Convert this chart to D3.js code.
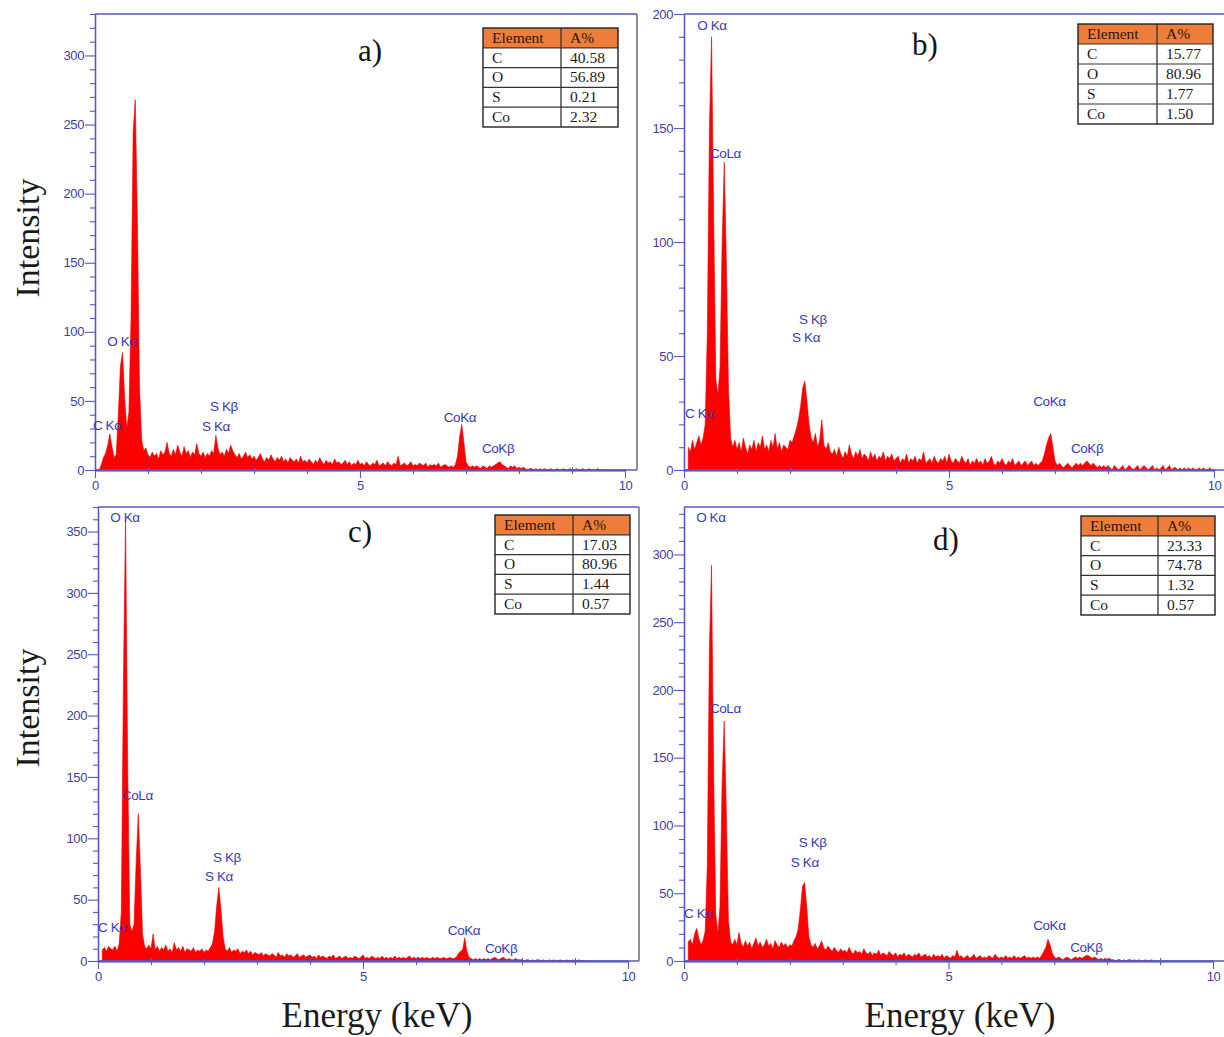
<!DOCTYPE html>
<html><head><meta charset="utf-8">
<script src="https://cdn.jsdelivr.net/npm/d3@7"></script>
<style>body{margin:0;background:#fff;} svg{display:block}</style>
</head><body>
<svg id="chart" width="1224" height="1037"></svg>
<script>
// ---------- DATA ----------
const energyStep = 0.04; // keV per channel (channel i -> i * energyStep)

const countsA = [0,0,0,4,9,12,18,26,17,9,
11,40,75,85,52,30,42,110,245,268,
180,60,22,14,16,11,9,13,10,12,
8,14,11,13,20,12,10,15,11,18,
13,10,17,12,14,9,13,11,19,12,
10,13,9,12,10,14,12,25,16,11,
13,10,15,12,18,14,11,9,12,8,
10,13,9,11,8,10,7,9,12,8,
6,9,7,11,8,6,9,7,10,6,
8,5,9,7,6,8,5,10,6,7,
5,8,6,4,7,5,9,6,4,7,
5,6,4,8,5,6,4,5,7,4,
6,3,5,4,7,4,5,3,6,4,
3,5,4,7,3,4,5,3,6,4,
3,5,4,10,3,4,5,3,4,6,
3,4,3,5,4,3,5,2,4,3,
4,3,5,2,3,4,3,2,3,2,
4,10,24,33,20,6,3,2,3,2,
3,2,1,3,2,1,3,2,3,4,
5,6,4,3,2,1,3,2,3,1,
2,1,2,1,0,1,1,0,1,0,
1,0,1,0,0,1,0,0,1,0,
0,1,0,0,1,0,0,1,0,0,
1,0,0,1,0,0,0,1,0,0];

const countsB = [0,0,10,8,13,9,12,15,11,14,
20,60,150,190,110,40,33,45,100,135,
90,35,14,10,13,9,12,8,14,10,
7,11,9,13,8,12,10,15,9,11,
8,13,10,16,9,12,8,11,10,9,
13,12,15,18,22,28,36,39,30,20,
14,12,16,10,13,22,11,9,12,8,
7,9,6,10,7,5,8,6,11,7,
5,8,6,9,5,7,6,4,8,5,
7,4,6,5,8,4,6,5,7,4,
5,6,3,5,4,7,3,5,4,6,
3,5,4,8,3,4,5,3,6,4,
3,5,4,6,3,7,4,3,5,4,
3,6,4,3,5,2,4,3,5,3,
4,2,5,3,4,6,3,2,4,3,
5,3,2,4,3,5,2,3,4,2,
3,4,2,3,4,2,3,2,3,4,
7,11,14,16,10,4,2,3,2,1,
2,3,2,1,2,3,2,3,2,3,
4,3,2,3,2,1,2,1,2,1,
2,1,0,2,1,0,1,2,0,1,
2,1,0,1,2,0,1,2,1,0,
1,2,0,1,0,1,2,0,1,2,
0,1,1,0,1,0,1,0,1,0,
1,0,0,1,0,1,0,0,1,0];

const countsC = [0,0,9,11,8,12,10,9,12,8,
14,40,230,360,160,30,24,30,80,120,
75,22,12,10,13,10,22,9,12,8,
11,9,13,8,10,7,15,9,11,8,
12,7,10,9,8,11,7,9,8,10,
7,9,8,11,14,24,45,60,42,20,
10,8,11,7,9,8,10,6,8,7,
9,6,8,5,7,6,5,7,4,6,
5,4,6,5,3,7,4,5,3,6,
4,5,3,4,6,3,4,5,3,4,
5,3,4,2,5,3,4,3,2,4,
3,5,2,3,4,2,3,4,2,3,
2,4,3,2,3,5,2,3,2,4,
3,2,3,2,4,2,3,2,3,2,
4,2,3,2,3,2,3,4,2,3,
2,3,2,3,2,3,2,2,3,2,
3,2,2,3,2,2,3,2,2,3,
6,8,9,19,8,3,2,1,2,1,
2,1,2,1,2,1,2,3,2,1,
2,3,2,1,2,1,1,2,1,1,
1,0,1,1,0,1,0,1,1,0,
1,0,0,1,0,1,0,0,1,0,
0,1,0,0,1,0,0,1,0,0,
0];

const countsD = [0,0,14,16,12,20,24,17,12,15,
22,70,230,292,140,35,20,40,130,177,
110,30,14,12,16,12,21,13,10,15,
11,14,9,13,17,11,14,10,12,16,
11,13,9,15,12,10,14,11,13,10,
12,11,15,18,24,38,55,58,40,18,
12,10,13,9,11,15,10,8,11,9,
7,10,8,6,9,7,8,6,10,7,
5,8,6,7,5,9,6,5,7,4,
6,5,8,4,6,5,4,7,5,4,
6,3,5,4,6,3,5,4,3,5,
4,6,3,4,5,3,4,2,5,3,
4,3,5,2,4,3,2,4,3,8,
3,4,2,3,4,2,3,5,2,3,
4,2,3,2,4,3,2,5,3,2,
3,2,4,2,3,2,4,2,3,2,
3,4,2,3,2,3,2,3,2,4,
7,10,16,12,6,3,2,3,2,1,
2,3,2,1,2,3,2,3,2,3,
4,4,3,2,3,2,1,2,1,2,
1,2,1,1,0,1,1,0,1,0,
1,1,0,1,0,1,0,0,1,0,
0,1,0];

const tableHeader = ["Element", "A%"];
const tableElements = ["C", "O", "S", "Co"];
const atomicA = ["40.58", "56.89", "0.21", "2.32"];
const atomicB = ["15.77", "80.96", "1.77", "1.50"];
const atomicC = ["17.03", "80.96", "1.44", "0.57"];
const atomicD = ["23.33", "74.78", "1.32", "0.57"];

const panelLetters = ["a)", "b)", "c)", "d)"];
const xMajorTicks = [0, 5, 10];
const xMinorTicks = [1, 2, 3, 4, 6, 7, 8, 9];
const yMajorA = [0, 50, 100, 150, 200, 250, 300];
const yMajorB = [0, 50, 100, 150, 200];
const yMajorC = [0, 50, 100, 150, 200, 250, 300, 350];
const yMajorD = [0, 50, 100, 150, 200, 250, 300];
const yMaxA = 330, yMaxB = 200, yMaxC = 370, yMaxD = 335;

// peak annotations: [text, energy (keV), intensity] of label start/baseline
const peaksA = [["C Kα",-0.04,29],["O Kα",0.23,90],["S Kβ",2.17,43],["S Kα",2.02,28],["CoKα",6.58,35],["CoKβ",7.3,12]];
const peaksB = [["O Kα",0.25,193],["CoLα",0.49,137],["S Kβ",2.17,64],["S Kα",2.04,56],["C Kα",0.02,23],["CoKα",6.59,28],["CoKβ",7.3,7.5]];
const peaksC = [["O Kα",0.23,358],["CoLα",0.45,131],["S Kβ",2.17,81],["S Kα",2.02,65],["C Kα",0,24],["CoKα",6.6,21],["CoKβ",7.3,6.5]];
const peaksD = [["O Kα",0.23,324],["CoLα",0.49,183],["S Kβ",2.17,84],["S Kα",2.02,69],["C Kα",0,32],["CoKα",6.6,23],["CoKβ",7.3,6.6]];

const yTitle = "Intensity";
const xTitle = "Energy (keV)";

// ---------- LAYOUT ----------
const AXIS = "#5757c4", TICKTXT = "#40409e", PEAKTXT = "#3a3ab2";
const panels = [
  {counts: countsA, atomic: atomicA, yMajor: yMajorA, yMax: yMaxA, peaks: peaksA,
   left: 95, x10: 625, right: 637, top: 14, bottom: 470,
   table: {x: 483, y: 28, w: 135, split: 78, h: 99}, letter: {x: 358, y: 61}},
  {counts: countsB, atomic: atomicB, yMajor: yMajorB, yMax: yMaxB, peaks: peaksB,
   left: 684, x10: 1214, right: 1226, top: 14, bottom: 470,
   table: {x: 1078, y: 24, w: 135, split: 79, h: 100}, letter: {x: 912, y: 55}},
  {counts: countsC, atomic: atomicC, yMajor: yMajorC, yMax: yMaxC, peaks: peaksC,
   left: 98, x10: 628, right: 639, top: 507, bottom: 961,
   table: {x: 495, y: 515, w: 135, split: 78, h: 99}, letter: {x: 348, y: 542}},
  {counts: countsD, atomic: atomicD, yMajor: yMajorD, yMax: yMaxD, peaks: peaksD,
   left: 684, x10: 1213, right: 1226, top: 507, bottom: 961,
   table: {x: 1081, y: 516, w: 134, split: 77, h: 99}, letter: {x: 933, y: 550}}
];

const svg = d3.select("#chart");
svg.append("rect").attr("width", 1224).attr("height", 1037).attr("fill", "#fff");

panels.forEach((p, pi) => {
  const g = svg.append("g");
  const x = d3.scaleLinear().domain([0, 10]).range([p.left, p.x10]);
  const y = d3.scaleLinear().domain([0, p.yMax]).range([p.bottom, p.top]);
  const pts = p.counts.map((v, i) => ({e: i * energyStep, v}));

  // frame (top + right)
  g.append("line").attr("x1", p.left).attr("x2", p.right).attr("y1", p.top).attr("y2", p.top)
    .attr("stroke", AXIS).attr("stroke-width", 1.3);
  g.append("line").attr("x1", p.right).attr("x2", p.right).attr("y1", p.top).attr("y2", p.bottom)
    .attr("stroke", "#555").attr("stroke-width", 1.3);

  // spectrum
  const area = d3.area().x(d => x(d.e)).y0(y(0)).y1(d => y(d.v));
  g.append("path").datum(pts.filter(d => d.e > 0.05))
    .attr("d", area).attr("fill", "#ff0000").attr("stroke", "#e00000").attr("stroke-width", 0.6)
    .attr("stroke-linejoin", "miter");

  // y axis
  const yMinor = d3.range(10, p.yMax + 1, 10).filter(v => v % 50 !== 0);
  g.append("g").attr("transform", `translate(${p.left},0)`)
    .call(d3.axisLeft(y).tickValues(p.yMajor).tickSize(10).tickSizeOuter(0).tickPadding(1));
  g.append("g").attr("transform", `translate(${p.left},0)`)
    .call(d3.axisLeft(y).tickValues(yMinor).tickSize(5).tickSizeOuter(0).tickFormat(""));

  // x axis
  g.append("g").attr("transform", `translate(0,${p.bottom})`)
    .call(d3.axisBottom(x).tickValues(xMajorTicks).tickSize(8).tickSizeOuter(0).tickPadding(3));
  g.append("g").attr("transform", `translate(0,${p.bottom})`)
    .call(d3.axisBottom(x).tickValues(xMinorTicks).tickSize(4).tickSizeOuter(0).tickFormat(""));
  g.append("g").attr("transform", `translate(0,${p.bottom})`)
    .call(d3.axisTop(x).tickValues(xMinorTicks).tickSize(3).tickSizeOuter(0).tickFormat(""));
  g.append("line").attr("x1", p.left).attr("x2", p.right).attr("y1", p.bottom).attr("y2", p.bottom)
    .attr("stroke", AXIS).attr("stroke-width", 1.4);

  g.selectAll(".domain").attr("stroke", AXIS).attr("stroke-width", 1.3);
  g.selectAll(".tick line").attr("stroke", AXIS).attr("stroke-width", 1.1);
  g.selectAll(".tick text").attr("fill", TICKTXT)
    .style("font-family", "'Liberation Sans', Arial, sans-serif").style("font-size", "13px")
    .style("letter-spacing", "-0.4px");

  // peak labels
  g.selectAll("text.peak").data(p.peaks).enter().append("text")
    .attr("class", "peak")
    .attr("x", d => x(d[1])).attr("y", d => y(d[2]))
    .attr("fill", PEAKTXT)
    .style("font-family", "'Liberation Sans', Arial, sans-serif").style("font-size", "13.5px")
    .style("letter-spacing", "-0.4px")
    .text(d => d[0]);

  // panel letter
  g.append("text").attr("x", p.letter.x).attr("y", p.letter.y)
    .style("font-family", "'Liberation Serif', 'Times New Roman', serif").style("font-size", "31px")
    .attr("fill", "#151515").text(panelLetters[pi]);

  // composition table
  const t = p.table, rh = t.h / 5;
  const tg = g.append("g");
  tg.append("rect").attr("x", t.x).attr("y", t.y).attr("width", t.w).attr("height", t.h).attr("fill", "#fff");
  tg.append("rect").attr("x", t.x).attr("y", t.y).attr("width", t.w).attr("height", rh).attr("fill", "#ee7d3b");
  for (let r = 1; r < 5; r++) {
    tg.append("line").attr("x1", t.x).attr("x2", t.x + t.w).attr("y1", t.y + r * rh).attr("y2", t.y + r * rh)
      .attr("stroke", "#333").attr("stroke-width", 1.2);
  }
  tg.append("line").attr("x1", t.x + t.split).attr("x2", t.x + t.split).attr("y1", t.y).attr("y2", t.y + t.h)
    .attr("stroke", "#333").attr("stroke-width", 1.3);
  tg.append("rect").attr("x", t.x).attr("y", t.y).attr("width", t.w).attr("height", t.h)
    .attr("fill", "none").attr("stroke", "#222").attr("stroke-width", 1.4);
  const rows = [tableHeader].concat(tableElements.map((el, i) => [el, p.atomic[i]]));
  rows.forEach((row, r) => {
    [0, 1].forEach(c => {
      tg.append("text")
        .attr("x", c === 0 ? t.x + 9 : t.x + t.split + 9)
        .attr("y", t.y + r * rh + rh - 5)
        .style("font-family", "'Liberation Serif', 'Times New Roman', serif").style("font-size", "15.5px")
        .attr("fill", r === 0 ? "#2a1608" : "#1a1a1a")
        .text(row[c]);
    });
  });
});

// axis titles
const serif = "'Liberation Serif', 'Times New Roman', serif";
[238, 708].forEach(cy => {
  svg.append("text").attr("transform", `translate(39,${cy}) rotate(-90)`)
    .attr("text-anchor", "middle").style("font-family", serif).style("font-size", "34px")
    .attr("fill", "#1a1a1a").text(yTitle);
});
[377, 960].forEach(cx => {
  svg.append("text").attr("x", cx).attr("y", 1027).attr("text-anchor", "middle")
    .style("font-family", serif).style("font-size", "35px").attr("fill", "#1a1a1a").text(xTitle);
});
</script>
</body></html>
